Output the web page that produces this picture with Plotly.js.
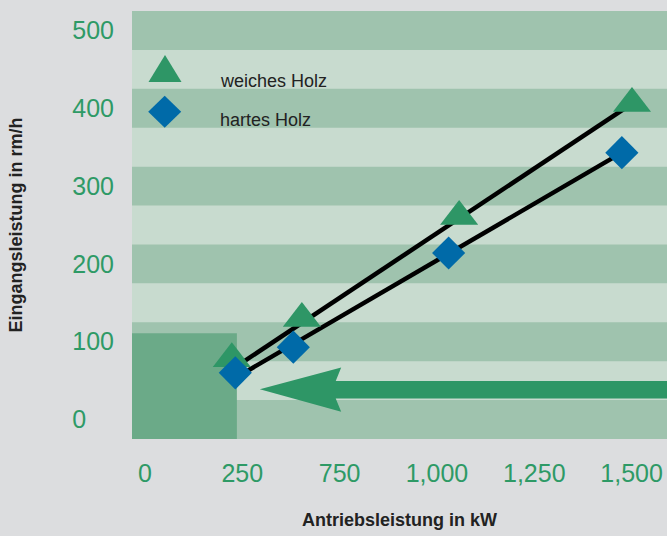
<!DOCTYPE html>
<html>
<head>
<meta charset="utf-8">
<script src="https://cdn.plot.ly/plotly-3.0.1.min.js"></script>
<style>html,body{margin:0;padding:0;background:#dcdddf;}#chart{width:667px;height:536px;}</style>
</head>
<body>
<div id="chart"></div>
<script>
// ---- data ----
const xTickVals = [0, 250, 500, 750, 1000, 1250];
const xTickLabels = ['0', '250', '750', '1,000', '1,250', '1,500'];
const yTickVals = [0, 100, 200, 300, 400, 500];
const yTickLabels = ['0\u00a0\u00a0\u00a0\u00a0', '100', '200', '300', '400', '500'];

const seriesNames = ['weiches Holz', 'hartes Holz'];
const softX = [223, 403, 807, 1251];
const softY = [78, 130, 261, 406];
const hardX = [232, 381, 780, 1225];
const hardY = [60, 93, 214, 343];
const fitSoftX = [234, 1251];
const fitSoftY = [68, 406];
const fitHardX = [244, 1225];
const fitHardY = [57, 343];

// ---- styles ----
const GREEN = '#2e9666';
const BLUE = '#006aa8';
const BAND_DARK = '#9fc3ae';
const BAND_LIGHT = '#c8dbcf';
const BOX = '#6baa88';
const TICK_GREEN = '#2e9a66';
const FONT = 'Liberation Sans, Arial, sans-serif';

const traces = [
  {x: fitSoftX, y: fitSoftY, mode: 'lines', line: {color: '#000', width: 4.5}, showlegend: false, hoverinfo: 'skip'},
  {x: fitHardX, y: fitHardY, mode: 'lines', line: {color: '#000', width: 4.5}, showlegend: false, hoverinfo: 'skip'},
  {x: softX, y: softY, name: seriesNames[0], mode: 'markers',
   marker: {symbol: 'triangle-up', size: 33, color: GREEN, line: {width: 0}}, showlegend: false},
  {x: hardX, y: hardY, name: seriesNames[1], mode: 'markers',
   marker: {symbol: 'diamond', size: 25.5, color: BLUE, line: {width: 0}}, showlegend: false}
];

const shapes = [];
// alternating horizontal bands centred on the y ticks
yTickVals.forEach(v => {
  shapes.push({type: 'rect', xref: 'paper', yref: 'y', x0: 0, x1: 1, y0: v - 25, y1: v + 25,
    fillcolor: BAND_DARK, line: {width: 0}, layer: 'below'});
});
// darker box in the lower-left corner
shapes.push({type: 'rect', xref: 'x', yref: 'y', x0: -60, x1: 236, y0: -40, y1: 111,
  fillcolor: BOX, line: {width: 0}, layer: 'below'});
// big arrow pointing left
shapes.push({type: 'path', xref: 'x', yref: 'y',
  path: 'M 295,39 L 504,67 L 490,49.5 L 1400,49.5 L 1400,27.2 L 490,27.2 L 504,10 Z',
  fillcolor: GREEN, line: {width: 0}, layer: 'below'});
// legend symbols
shapes.push({type: 'path', xref: 'paper', yref: 'paper', xsizemode: 'pixel', ysizemode: 'pixel',
  xanchor: 0.0617, yanchor: 0.8657, path: 'M -16.5,-13.5 L 16.5,-13.5 L 0,13.5 Z',
  fillcolor: GREEN, line: {width: 0}});
shapes.push({type: 'path', xref: 'paper', yref: 'paper', xsizemode: 'pixel', ysizemode: 'pixel',
  xanchor: 0.0611, yanchor: 0.7647, path: 'M -16.5,0 L 0,16 L 16.5,0 L 0,-16 Z',
  fillcolor: BLUE, line: {width: 0}});

const annotations = [
  {text: seriesNames[0], xref: 'paper', yref: 'paper', x: 0.161, y: 0.8364, xanchor: 'left', yanchor: 'middle',
   showarrow: false, font: {family: FONT, size: 18, color: '#222'}},
  {text: seriesNames[1], xref: 'paper', yref: 'paper', x: 0.161, y: 0.7442, xanchor: 'left', yanchor: 'middle',
   showarrow: false, font: {family: FONT, size: 18, color: '#222'}}
];

const layout = {
  width: 667, height: 536,
  margin: {l: 132, r: 0, t: 11, b: 97, pad: 0},
  paper_bgcolor: '#dcdddf',
  plot_bgcolor: BAND_LIGHT,
  showlegend: false,
  hovermode: false,
  xaxis: {
    range: [-33.4, 1341], tickvals: xTickVals, ticktext: xTickLabels,
    showgrid: false, zeroline: false, showline: false, ticks: '',
    ticklabelstandoff: 17,
    tickfont: {family: FONT, size: 25, color: TICK_GREEN},
    title: {text: 'Antriebsleistung in kW', font: {family: FONT, size: 18, color: '#222', weight: 'bold'}, standoff: 27}
  },
  yaxis: {
    range: [-25, 525], tickvals: yTickVals, ticktext: yTickLabels,
    showgrid: false, zeroline: false, showline: false, ticks: '',
    ticklabelstandoff: 17,
    tickfont: {family: FONT, size: 25, color: TICK_GREEN},
    title: {text: 'Eingangsleistung in rm/h', font: {family: FONT, size: 18, color: '#222', weight: 'bold'}, standoff: 44}
  },
  shapes: shapes,
  annotations: annotations
};

Plotly.newPlot('chart', traces, layout, {displayModeBar: false, staticPlot: true});
</script>
</body>
</html>
